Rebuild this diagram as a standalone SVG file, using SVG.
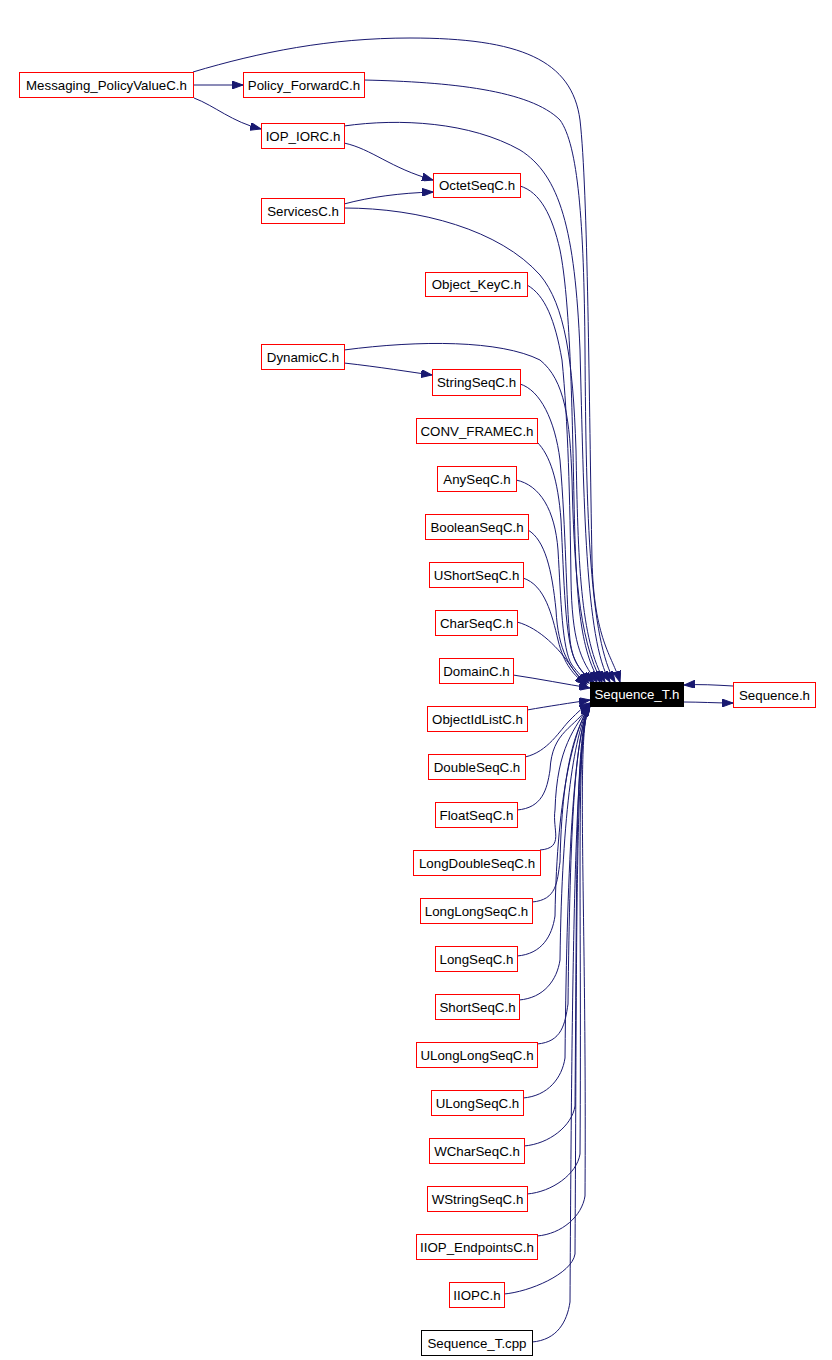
<svg xmlns="http://www.w3.org/2000/svg" width="832" height="1360" viewBox="0 0 832 1360">
<style>
.n rect{fill:#fff;stroke:#ff0000;stroke-width:1}
.n text{font-family:"Liberation Sans",Arial,Helvetica,sans-serif;font-size:13.3px;fill:#000;text-anchor:middle}
.k rect{stroke:#000}
.s rect{fill:#000;stroke:#000}
.s text{fill:#fff}
.e path{fill:none;stroke:#191970;stroke-width:1;marker-end:url(#ah)}
</style>
<defs>
<marker id="ah" markerUnits="userSpaceOnUse" markerWidth="12" markerHeight="8" refX="11" refY="4" orient="auto">
<path d="M0,0 L11,4 L0,8 z" fill="#191970" stroke="#191970" stroke-width="1"/>
</marker>
</defs>
<rect width="832" height="1360" fill="#fff"/>
<g id="connectors" class="e">
<path d="M193,85 L243,85"/>
<path d="M194,98 C215,106 232,122 261,129"/>
<path d="M344,143 C372,149 390,168 433,180"/>
<path d="M344,204 C370,197 400,193 433,192"/>
<path d="M344,363 C380,367 410,372 432,375"/>
<path d="M193,72 C260,52 330,38 410,38 C520,38 572,60 580,120 C588,190 589,400 592,560 C594,640 612,655 620,682"/>
<path d="M364,80 C450,82 530,90 560,120 C578,145 584,220 585,350 C586,520 590,640 615,682"/>
<path d="M344,126 C400,118 470,122 520,150 C560,175 575,230 580,350 C584,500 585,640 610,682"/>
<path d="M344,208 C420,208 500,230 540,275 C565,305 573,360 576,450 C578,560 580,640 605,682"/>
<path d="M520,186 C540,192 552,215 560,250 C570,300 572,400 574,500 C576,600 580,650 600,682"/>
<path d="M527,285 C545,295 555,320 562,360 C568,420 570,500 571,580 C572,640 580,660 597,682"/>
<path d="M344,350 C420,340 500,340 540,360 C565,380 570,420 572,480 C574,560 578,640 602,682"/>
<path d="M520,384 C540,390 555,420 560,460 C566,530 566,600 570,640 C573,665 582,672 594,682"/>
<path d="M537,442 C550,455 558,480 561,520 C564,580 565,640 575,660 C580,670 585,676 592,682"/>
<path d="M516,480 C540,485 555,510 558,550 C561,600 562,650 572,665 C578,673 583,678 589,683"/>
<path d="M528,530 C545,540 552,570 556,610 C558,650 570,670 587,684"/>
<path d="M523,578 C545,585 552,615 558,640 C564,665 574,675 586,685"/>
<path d="M517,622 C540,628 560,650 570,665 C575,672 580,678 586,686"/>
<path d="M513,675 C540,679 565,684 590,688"/>
<path d="M527,710 C550,706 570,703 590,700"/>
<path d="M525,757 C548,752 560,730 570,720 C578,712 583,707 590,703"/>
<path d="M517,810 C542,808 547,790 550,770 C552,730 575,729 590,704"/>
<path d="M540,850 C565,848 552,830 555,810 C557,746 575,729 590,704"/>
<path d="M532,902 C557,900 557,882 560,862 C562,768 575,730 590,705"/>
<path d="M517,956 C542,954 552,936 555,916 C557,789 575,729 590,704"/>
<path d="M519,1000 C544,998 557,980 560,960 C562,807 575,730 590,705"/>
<path d="M537,1044 C562,1042 565,1024 568,1004 C570,825 575,731 590,706"/>
<path d="M523,1098 C548,1096 562,1078 565,1058 C567,846 575,730 590,705"/>
<path d="M524,1146 C549,1144 572,1126 575,1106 C577,865 575,729 590,704"/>
<path d="M527,1194 C552,1192 577,1174 580,1154 C582,883 575,728 590,703"/>
<path d="M537,1236 C562,1234 582,1216 585,1196 C587,901 575,729 590,704"/>
<path d="M504,1294 C529,1292 572,1274 575,1254 C577,925 575,730 590,705"/>
<path d="M532,1342 C557,1340 567,1322 570,1302 C572,944 575,731 590,706"/>
<path d="M733,686 C715,685 700,684 684,685"/>
<path d="M684,702 C700,702 715,703 733,703"/>
</g>
<g id="n_messaging" class="n"><rect x="19.5" y="72.5" width="174" height="25"/><text x="106.5" y="89.5">Messaging_PolicyValueC.h</text></g>
<g id="n_policyfwd" class="n"><rect x="243.5" y="72.5" width="121" height="25"/><text x="304" y="89.5">Policy_ForwardC.h</text></g>
<g id="n_iopiorc" class="n"><rect x="261.5" y="123.5" width="83" height="25"/><text x="303" y="140.5">IOP_IORC.h</text></g>
<g id="n_services" class="n"><rect x="261.5" y="198.5" width="83" height="25"/><text x="303" y="215.5">ServicesC.h</text></g>
<g id="n_octetseq" class="n"><rect x="433.5" y="173.5" width="87" height="24"/><text x="477" y="190">OctetSeqC.h</text></g>
<g id="n_objectkey" class="n"><rect x="425.5" y="272.5" width="102" height="24"/><text x="476.5" y="289">Object_KeyC.h</text></g>
<g id="n_dynamic" class="n"><rect x="261.5" y="344.5" width="83" height="25"/><text x="303" y="361.5">DynamicC.h</text></g>
<g id="n_stringseq" class="n"><rect x="432.5" y="369.5" width="88" height="26"/><text x="476.5" y="387">StringSeqC.h</text></g>
<g id="n_convframe" class="n"><rect x="416.5" y="418.5" width="121" height="25"/><text x="477" y="435.5">CONV_FRAMEC.h</text></g>
<g id="n_anyseq" class="n"><rect x="437.5" y="466.5" width="79" height="25"/><text x="477" y="483.5">AnySeqC.h</text></g>
<g id="n_booleanseq" class="n"><rect x="425.5" y="514.5" width="103" height="25"/><text x="477" y="531.5">BooleanSeqC.h</text></g>
<g id="n_ushortseq" class="n"><rect x="429.5" y="562.5" width="94" height="25"/><text x="476.5" y="579.5">UShortSeqC.h</text></g>
<g id="n_charseq" class="n"><rect x="435.5" y="610.5" width="82" height="25"/><text x="476.5" y="627.5">CharSeqC.h</text></g>
<g id="n_domain" class="n"><rect x="439.5" y="658.5" width="74" height="25"/><text x="476.5" y="675.5">DomainC.h</text></g>
<g id="n_objectidlist" class="n"><rect x="427.5" y="706.5" width="100" height="25"/><text x="477.5" y="723.5">ObjectIdListC.h</text></g>
<g id="n_sequence_t_h" class="n s"><rect x="590.5" y="682.5" width="93" height="24"/><text x="637" y="699">Sequence_T.h</text></g>
<g id="n_sequence_h" class="n"><rect x="733.5" y="682.5" width="82" height="25"/><text x="774.5" y="699.5">Sequence.h</text></g>
<g id="n_doubleseq" class="n"><rect x="428.5" y="754.5" width="97" height="25"/><text x="477" y="771.5">DoubleSeqC.h</text></g>
<g id="n_floatseq" class="n"><rect x="435.5" y="802.5" width="82" height="25"/><text x="476.5" y="819.5">FloatSeqC.h</text></g>
<g id="n_longdoubleseq" class="n"><rect x="413.5" y="850.5" width="127" height="25"/><text x="477" y="867.5">LongDoubleSeqC.h</text></g>
<g id="n_longlongseq" class="n"><rect x="420.5" y="898.5" width="112" height="25"/><text x="476.5" y="915.5">LongLongSeqC.h</text></g>
<g id="n_longseq" class="n"><rect x="435.5" y="946.5" width="82" height="25"/><text x="476.5" y="963.5">LongSeqC.h</text></g>
<g id="n_shortseq" class="n"><rect x="435.5" y="994.5" width="84" height="25"/><text x="477.5" y="1011.5">ShortSeqC.h</text></g>
<g id="n_ulonglongseq" class="n"><rect x="416.5" y="1042.5" width="121" height="25"/><text x="477" y="1059.5">ULongLongSeqC.h</text></g>
<g id="n_ulongseq" class="n"><rect x="431.5" y="1090.5" width="92" height="25"/><text x="477.5" y="1107.5">ULongSeqC.h</text></g>
<g id="n_wcharseq" class="n"><rect x="429.5" y="1138.5" width="95" height="25"/><text x="477" y="1155.5">WCharSeqC.h</text></g>
<g id="n_wstringseq" class="n"><rect x="427.5" y="1186.5" width="100" height="25"/><text x="477.5" y="1203.5">WStringSeqC.h</text></g>
<g id="n_iiopendpoints" class="n"><rect x="416.5" y="1234.5" width="121" height="25"/><text x="477" y="1251.5">IIOP_EndpointsC.h</text></g>
<g id="n_iiopc" class="n"><rect x="449.5" y="1282.5" width="55" height="25"/><text x="477" y="1299.5">IIOPC.h</text></g>
<g id="n_sequence_t_cpp" class="n k"><rect x="421.5" y="1330.5" width="111" height="25"/><text x="477" y="1347.5">Sequence_T.cpp</text></g>
</svg>
